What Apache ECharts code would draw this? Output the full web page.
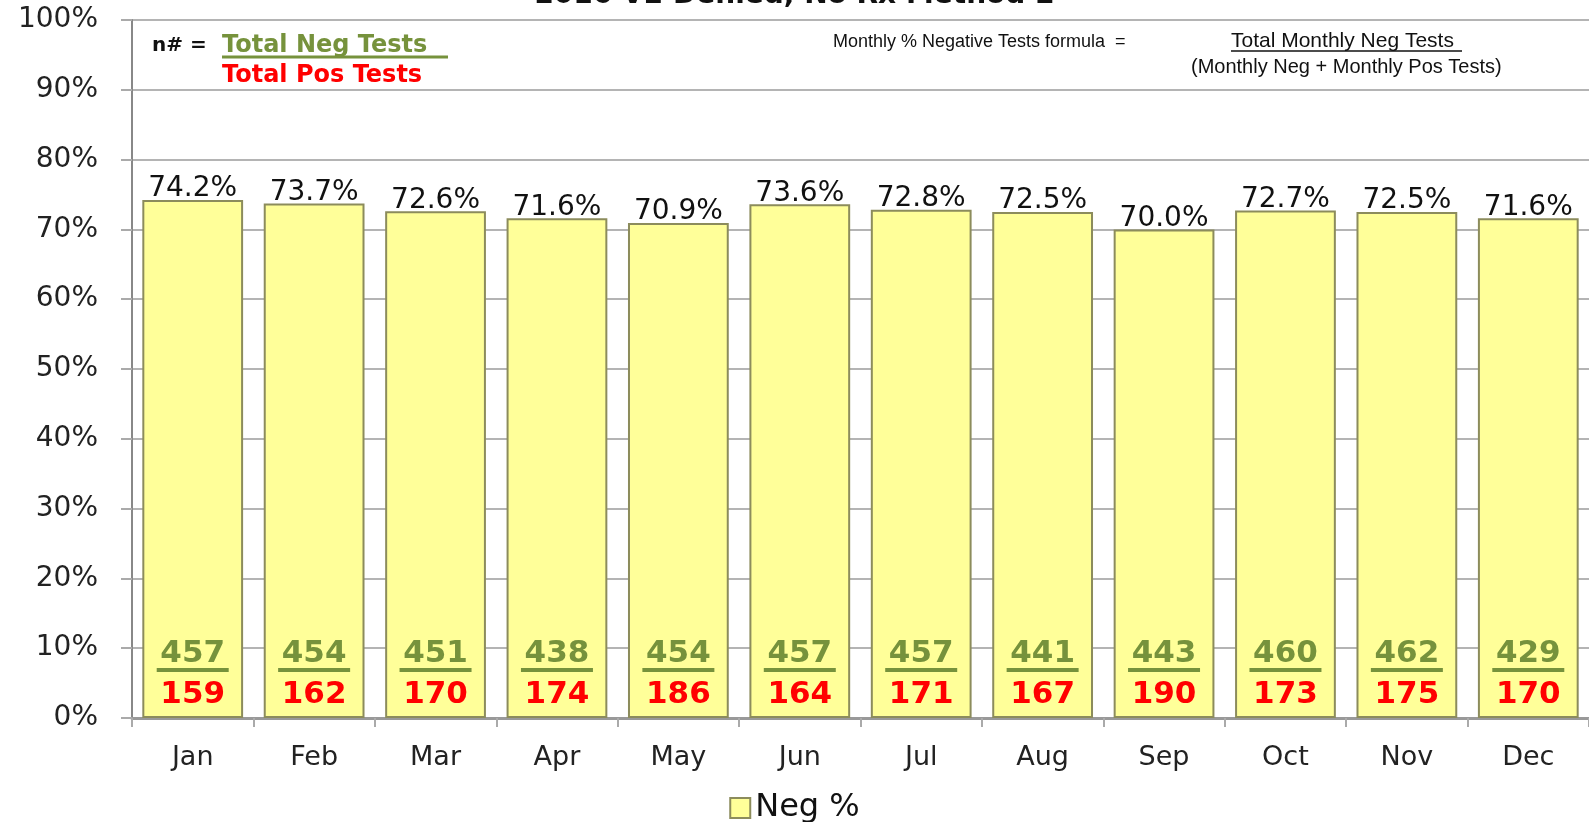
<!DOCTYPE html>
<html>
<head>
<meta charset="utf-8">
<title>Neg %</title>
<script src="https://cdn.jsdelivr.net/npm/echarts@6/dist/echarts.min.js"></script>
<style>
  html, body { margin: 0; padding: 0; background: #fff; }
  #chart { width: 1589px; height: 822px; }
</style>
</head>
<body>
<div id="chart"></div>
<script>
// 月份
const months = ['Jan', 'Feb', 'Mar', 'Apr', 'May', 'Jun', 'Jul', 'Aug', 'Sep', 'Oct', 'Nov', 'Dec']
// 阴性百分比
const negPct = [74.2, 73.7, 72.6, 71.6, 70.9, 73.6, 72.8, 72.5, 70.0, 72.7, 72.5, 71.6]
// 阴性 / 阳性检测数
const negTests = [457, 454, 451, 438, 454, 457, 457, 441, 443, 460, 462, 429]
const posTests = [159, 162, 170, 174, 186, 164, 171, 167, 190, 173, 175, 170]
// y轴刻度
const yTicks = [0, 10, 20, 30, 40, 50, 60, 70, 80, 90, 100]

const green = '#76923c'
const wide = 'DejaVu Sans'

const chart = echarts.init(document.getElementById('chart'))

const options = {
  backgroundColor: '#fff',
  animation: false,
  grid: { left: 132, right: -7, top: 20, bottom: 104 },
  legend: {
    data: [{ name: 'Neg %', icon: 'rect' }],
    bottom: -7,
    left: 'center',
    itemWidth: 20,
    itemHeight: 20,
    itemGap: 8,
    textStyle: { fontSize: 32, fontFamily: wide, color: '#111' }
  },
  xAxis: {
    type: 'category',
    data: months,
    axisLine: { lineStyle: { color: '#999', width: 3 } },
    axisTick: { show: true, length: 9, lineStyle: { color: '#aaa', width: 2 } },
    axisLabel: { margin: 26, fontSize: 27, fontFamily: wide, color: '#222' }
  },
  yAxis: {
    type: 'value',
    min: yTicks[0],
    max: yTicks[yTicks.length - 1],
    interval: 10,
    axisLine: { show: true, lineStyle: { color: '#888', width: 2 } },
    axisTick: { show: true, length: 11, lineStyle: { color: '#aaa', width: 2 } },
    splitLine: { lineStyle: { color: '#b4b4b4', width: 2 } },
    axisLabel: {
      margin: 34,
      fontSize: 28,
      fontFamily: wide,
      color: '#222',
      formatter: v => v + '%'
    }
  },
  series: [
    {
      name: 'Neg %',
      type: 'bar',
      data: negPct,
      barCategoryGap: '17%',
      itemStyle: { color: '#ffff99', borderColor: '#8c8c5c', borderWidth: 2 },
      label: {
        show: true,
        position: 'top',
        distance: -3,
        fontSize: 28,
        fontFamily: wide,
        color: '#111',
        formatter: p => p.value.toFixed(1) + '%'
      }
    },
    {
      // 透明柱，只用来放 阴性/阳性 数字
      name: 'counts',
      type: 'bar',
      data: negPct,
      barGap: '-100%',
      barCategoryGap: '17%',
      itemStyle: { color: 'rgba(0,0,0,0)' },
      silent: true,
      label: {
        show: true,
        position: 'insideBottom',
        distance: 16,
        formatter: p => '{n|' + negTests[p.dataIndex] + '}\n{u|}\n{p|' + posTests[p.dataIndex] + '}',
        rich: {
          n: { color: green, fontSize: 31, fontWeight: 'bold', fontFamily: wide, lineHeight: 28, align: 'center' },
          u: { width: 72, height: 4, lineHeight: 4, backgroundColor: green, align: 'center' },
          p: { color: '#ff0000', fontSize: 31, fontWeight: 'bold', fontFamily: wide, lineHeight: 30, padding: [16, 0, 0, 0], align: 'center' }
        }
      }
    }
  ],
  graphic: [
    // 标题（上半部分被裁掉）
    {
      type: 'text', left: 'center', top: -18,
      style: { text: '2016 V2 Denied, No Rx Method 2', font: 'bold 28px "DejaVu Sans"', fill: '#111' }
    },
    { type: 'text', left: 152, top: 36, style: { text: 'n# =', font: 'bold 20px "DejaVu Sans"', fill: '#111' } },
    { type: 'text', left: 222, top: 34, style: { text: 'Total Neg Tests', font: 'bold 24px "DejaVu Sans"', fill: green } },
    { type: 'line', shape: { x1: 222, y1: 57, x2: 448, y2: 57 }, style: { stroke: green, lineWidth: 3 } },
    { type: 'text', left: 222, top: 64, style: { text: 'Total Pos Tests', font: 'bold 24px "DejaVu Sans"', fill: '#ff0000' } },
    { type: 'text', left: 833, top: 33, style: { text: 'Monthly % Negative Tests formula  =', font: '18px "Liberation Sans"', fill: '#111' } },
    { type: 'text', left: 1231, top: 31, style: { text: 'Total Monthly Neg Tests', font: '21px "Liberation Sans"', fill: '#111' } },
    { type: 'line', shape: { x1: 1231, y1: 51, x2: 1462, y2: 51 }, style: { stroke: '#111', lineWidth: 1.5 } },
    { type: 'text', left: 1191, top: 57, style: { text: '(Monthly Neg + Monthly Pos Tests)', font: '20px "Liberation Sans"', fill: '#111' } }
  ]
}

chart.setOption(options)
</script>
</body>
</html>
